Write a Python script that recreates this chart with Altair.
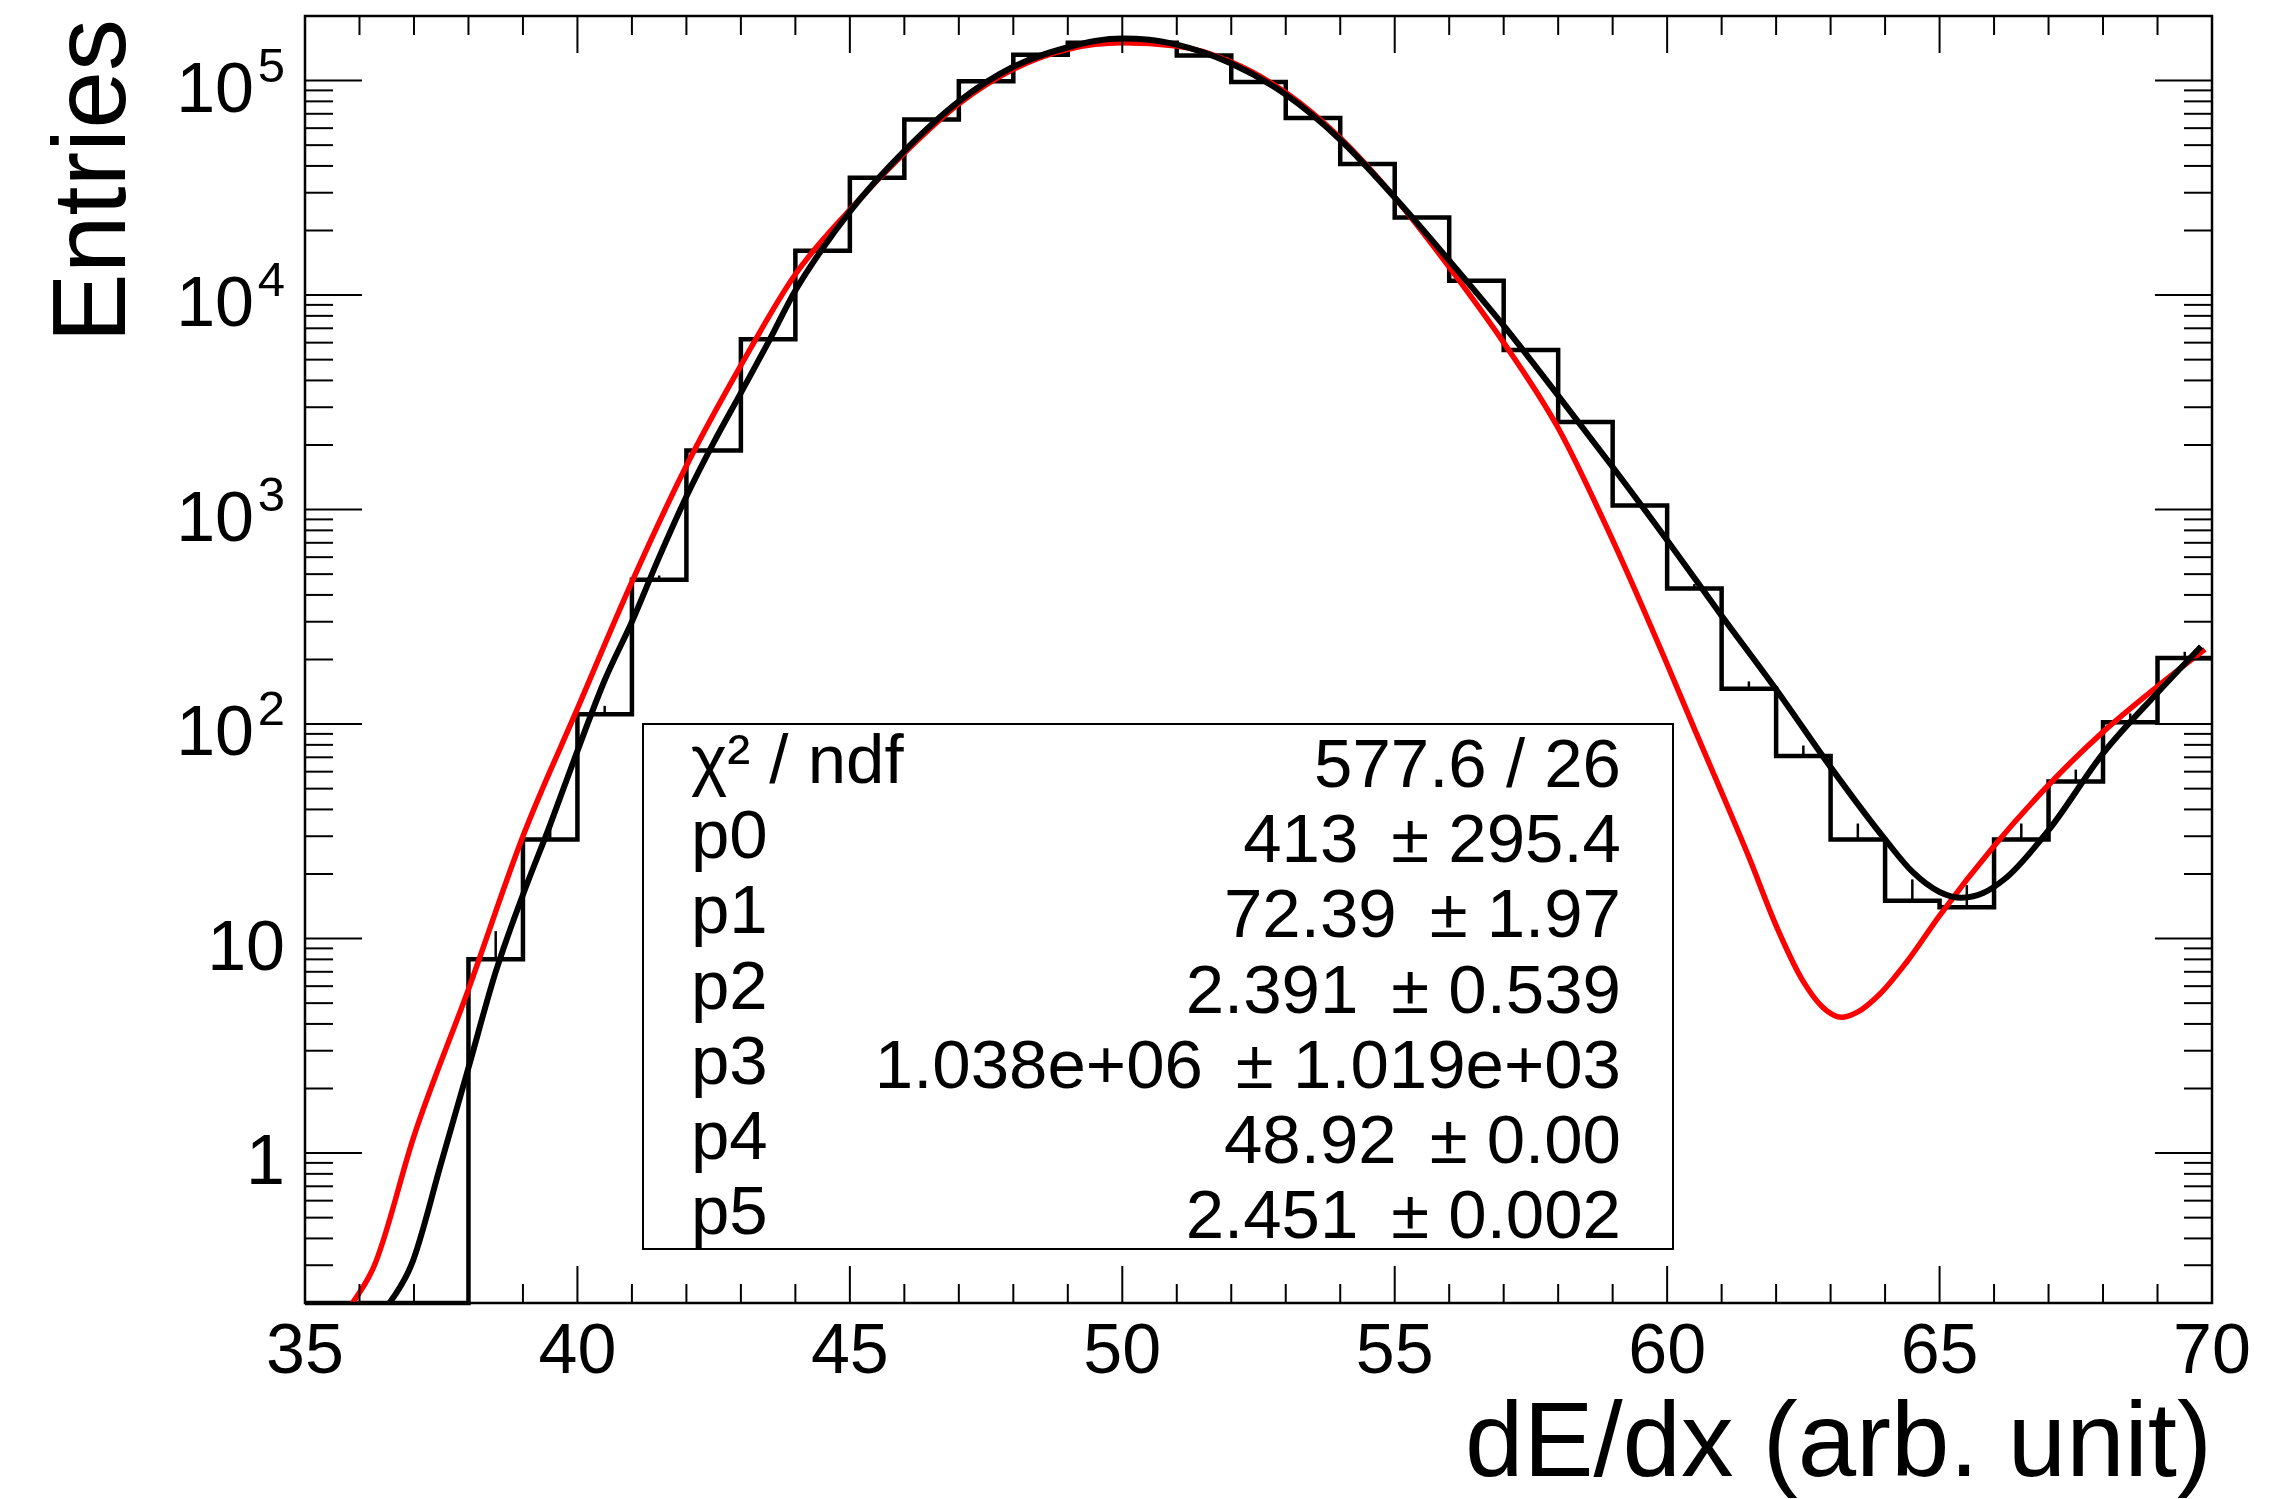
import math
import altair as alt
import pandas as pd

# ---------------- layout ----------------
W, H = 1907, 1287
PAD = {"left": 305, "top": 16, "right": 83, "bottom": 196}
FONT = "Liberation Sans"

# ---------------- data ----------------
X_MIN, X_MAX = 35, 70
Y_MIN, Y_MAX = 0.2, 2.0e5

bin_lo = list(range(35, 70))
counts = [0, 0, 0, 8, 29, 111, 471, 1883, 6230, 16100, 35200, 65800, 99300,
          132000, 150000, 150000, 131000, 98500, 67000, 40800, 23000, 11650,
          5540, 2560, 1044, 429, 146, 71, 29, 15, 14, 29, 54, 102, 203]

black_x = [36.55, 36.95, 37.5, 38.0, 38.5, 39.0, 39.5, 40.0, 40.5, 41.0, 41.5,
           42.0, 42.5, 43.0, 43.5, 44.0, 44.5, 45.0, 46.0, 47.0, 48.0, 49.0,
           49.5, 50.0, 50.5, 51.0, 52.0, 53.0, 54.0, 55.0, 56.0, 57.0, 58.0,
           59.0, 60.0, 61.0, 62.0, 63.0, 64.0, 64.5, 65.0, 65.4, 65.8, 66.2,
           67.0, 68.0, 69.0, 69.8]
black_y = [0.2, 0.30, 0.9, 2.5, 7.0, 16, 34, 75, 160, 300, 600,
           1150, 2050, 3500, 6000, 10500, 16500, 24500, 47000, 80000, 116000, 143000,
           153000, 157000, 155000, 147000, 120000, 86000, 53000, 28500, 14500, 7200, 3400,
           1580, 720, 320, 145, 63, 29, 20.5, 16.5, 15.5, 16.3, 19,
           32, 73, 140, 230]

red_x = [35.87, 36.25, 37.0, 38.0, 39.0, 40.0, 41.0, 42.0, 43.0, 44.0, 45.0,
         46.0, 47.0, 48.0, 49.0, 50.0, 51.0, 52.0, 53.0, 54.0, 55.0, 56.0,
         57.0, 58.0, 59.0, 60.0, 60.5, 61.0, 61.5, 62.0, 62.5, 62.85, 63.2,
         63.5, 63.9, 64.4, 65.0, 66.0, 67.0, 68.0, 69.0, 69.87]
red_y = [0.2, 0.29, 1.2, 5.8, 30, 118, 460, 1600, 4700, 12500, 25000,
         46000, 78000, 113000, 140000, 150000, 145000, 122000, 88000, 54000, 28500, 13500,
         6000, 2400, 720, 190, 95, 48, 24, 11.5, 6.3, 4.8, 4.3,
         4.55, 5.5, 7.8, 12.8, 27, 52, 92, 150, 223]

x_major = [35, 40, 45, 50, 55, 60, 65, 70]
x_labels = ["35", "40", "45", "50", "55", "60", "65", "70"]
x_minor = [v for v in range(36, 70) if v % 5 != 0]

y_major = [1, 10, 100, 1000, 10000, 100000]
y_plain_vals = [1, 10]
y_plain_labels = ["1", "10"]
y_pow_vals = [100, 1000, 10000, 100000]
y_pow_base = ["10", "10", "10", "10"]
y_pow_exp = ["2", "3", "4", "5"]
y_minor = [k * 10.0 ** d for d in range(-1, 6) for k in range(2, 10)
           if Y_MIN < k * 10.0 ** d < Y_MAX]

stat_names = ["\u03c7\u00b2 / ndf", "p0", "p1", "p2", "p3", "p4", "p5"]
stat_values = ["577.6 / 26",
               "413 \u2009\u00b1 295.4",
               "72.39 \u2009\u00b1 1.97",
               "2.391 \u2009\u00b1 0.539",
               "1.038e+06 \u2009\u00b1 1.019e+03",
               "48.92 \u2009\u00b1 0.00",
               "2.451 \u2009\u00b1 0.002"]

x_title = "dE/dx (arb. unit)"
y_title = "Entries"

# ---------------- tables ----------------
nz = [(lo, c) for lo, c in zip(bin_lo, counts) if c > 0]
fill_df = pd.DataFrame({"x": [lo for lo, _ in nz] + [X_MAX],
                        "y": [c for _, c in nz] + [nz[-1][1]]})
out_df = pd.DataFrame({"x": [X_MIN] + fill_df["x"].tolist(),
                       "y": [Y_MIN] + fill_df["y"].tolist()})
err_df = pd.DataFrame({"xc": [lo + 0.5 for lo, _ in nz],
                       "c": [c for _, c in nz],
                       "hi": [c + math.sqrt(c) for _, c in nz]})
black_df = pd.DataFrame({"x": black_x, "y": black_y})
red_df = pd.DataFrame({"x": red_x, "y": red_y})
one = pd.DataFrame({"d": [0]})

xs = alt.Scale(domain=[X_MIN, X_MAX], nice=False, zero=False)
ys = alt.Scale(type="log", domain=[Y_MIN, Y_MAX], nice=False)


def X(f):
    return alt.X(f, type="quantitative", scale=xs, axis=None)


def Y(f):
    return alt.Y(f, type="quantitative", scale=ys, axis=None)


layers = []

# histogram fill
layers.append(alt.Chart(fill_df).mark_area(
    interpolate="step-after", color="#c6c6c6", orient="vertical"
).encode(x=X("x"), y=Y("y"), y2=alt.value(H)))

# error bars (upper part)
layers.append(alt.Chart(err_df).mark_rule(color="black", strokeWidth=2.5).encode(
    x=X("xc"), y=Y("c"), y2=alt.Y2("hi")))

# histogram outline
layers.append(alt.Chart(out_df).mark_line(
    interpolate="step-after", color="black", strokeWidth=4.5,
    strokeJoin="miter", strokeCap="butt"
).encode(x=X("x"), y=Y("y")))

# fits
layers.append(alt.Chart(red_df).mark_line(
    color="#ff0000", strokeWidth=5.5, clip=True, interpolate="monotone"
).encode(x=X("x"), y=Y("y")))
layers.append(alt.Chart(black_df).mark_line(
    color="black", strokeWidth=6, clip=True, interpolate="monotone"
).encode(x=X("x"), y=Y("y")))

# stats box
layers.append(alt.Chart(one).mark_rect(fill="white", stroke="black", strokeWidth=2).encode(
    x=alt.value(338), x2=alt.value(1368), y=alt.value(708), y2=alt.value(1233)))
for i, (nm, val) in enumerate(zip(stat_names, stat_values)):
    row = pd.DataFrame({"t": [nm], "v": [val]})
    layers.append(alt.Chart(row).mark_text(
        align="left", baseline="alphabetic", font=FONT, fontSize=69, color="black"
    ).encode(x=alt.value(386), y=alt.value(767 + 75.2 * i), text="t:N"))
    layers.append(alt.Chart(row).mark_text(
        align="right", baseline="alphabetic", font=FONT, fontSize=69, color="black"
    ).encode(x=alt.value(1316), y=alt.value(771 + 75.2 * i), text="v:N"))

# frame
layers.append(alt.Chart(one).mark_rect(fillOpacity=0, stroke="black", strokeWidth=2.5).encode(
    x=alt.value(0), x2=alt.value(W), y=alt.value(0), y2=alt.value(H)))

# ticks (inward, mirrored)
xmaj = pd.DataFrame({"v": x_major})
xmin_ = pd.DataFrame({"v": x_minor})
ymaj = pd.DataFrame({"v": y_major})
ymin_ = pd.DataFrame({"v": y_minor})
tk = dict(color="black", strokeWidth=2)
layers += [
    alt.Chart(xmaj).mark_rule(**tk).encode(x=X("v"), y=alt.value(H), y2=alt.value(H - 37)),
    alt.Chart(xmaj).mark_rule(**tk).encode(x=X("v"), y=alt.value(0), y2=alt.value(37)),
    alt.Chart(xmin_).mark_rule(**tk).encode(x=X("v"), y=alt.value(H), y2=alt.value(H - 19)),
    alt.Chart(xmin_).mark_rule(**tk).encode(x=X("v"), y=alt.value(0), y2=alt.value(19)),
    alt.Chart(ymaj).mark_rule(**tk).encode(y=Y("v"), x=alt.value(0), x2=alt.value(57)),
    alt.Chart(ymaj).mark_rule(**tk).encode(y=Y("v"), x=alt.value(W), x2=alt.value(W - 57)),
    alt.Chart(ymin_).mark_rule(**tk).encode(y=Y("v"), x=alt.value(0), x2=alt.value(28)),
    alt.Chart(ymin_).mark_rule(**tk).encode(y=Y("v"), x=alt.value(W), x2=alt.value(W - 28)),
]

# tick labels
xl = pd.DataFrame({"v": x_major, "t": x_labels})
layers.append(alt.Chart(xl).mark_text(
    align="center", baseline="alphabetic", font=FONT, fontSize=70, color="black"
).encode(x=X("v"), y=alt.value(H + 70), text="t:N"))

yl = pd.DataFrame({"v": y_plain_vals, "t": y_plain_labels})
layers.append(alt.Chart(yl).mark_text(
    align="right", baseline="alphabetic", font=FONT, fontSize=70, color="black", dy=31
).encode(y=Y("v"), x=alt.value(-20), text="t:N"))
yp = pd.DataFrame({"v": y_pow_vals, "b": y_pow_base, "e": y_pow_exp})
layers.append(alt.Chart(yp).mark_text(
    align="right", baseline="alphabetic", font=FONT, fontSize=70, color="black", dy=31
).encode(y=Y("v"), x=alt.value(-51), text="b:N"))
layers.append(alt.Chart(yp).mark_text(
    align="right", baseline="alphabetic", font=FONT, fontSize=49, color="black", dy=1
).encode(y=Y("v"), x=alt.value(-20), text="e:N"))

# axis titles
layers.append(alt.Chart(pd.DataFrame({"t": [x_title]})).mark_text(
    align="right", baseline="alphabetic", font=FONT, fontSize=105, color="black"
).encode(x=alt.value(W), y=alt.value(1460), text="t:N"))
layers.append(alt.Chart(pd.DataFrame({"t": [y_title]})).mark_text(
    align="right", baseline="alphabetic", font=FONT, fontSize=104, color="black", angle=270
).encode(x=alt.value(-180), y=alt.value(3), text="t:N"))

chart = alt.layer(*layers).properties(
    width=W, height=H, padding=PAD,
    autosize=alt.AutoSizeParams(type="none"),
    background="white",
).configure_view(stroke=None)

chart.save("out.html", embed_options={"renderer": "svg", "actions": False})
